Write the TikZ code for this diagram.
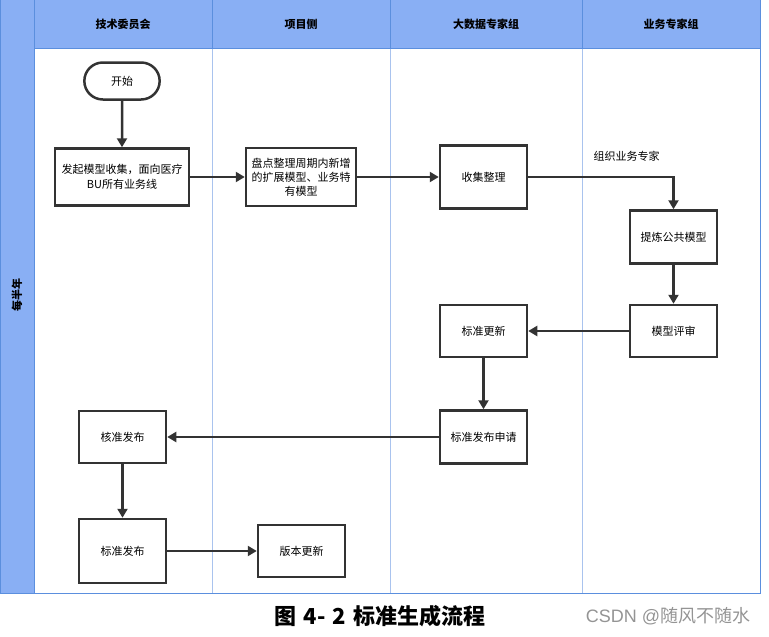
\documentclass[tikz,border=0pt]{standalone}
\usepackage{fontspec}
\setmainfont{Noto Sans CJK SC}
\setsansfont{Liberation Sans}
\usetikzlibrary{arrows.meta,shapes.misc}
\definecolor{hdr}{HTML}{89AFF4}
\definecolor{hdrline}{HTML}{5B8FDE}
\definecolor{sep}{HTML}{A9C3EE}
\definecolor{boxline}{HTML}{333333}
\tikzset{
  procbox/.style={draw=boxline,line width=2.5pt,fill=white,minimum width=87pt,minimum height=53pt,align=center,font=\fontsize{11}{15}\selectfont,inner sep=2pt},
  flow/.style={draw=boxline,line width=2.5pt,-{Triangle[length=9pt,width=10pt]}},
  hdrtext/.style={font=\fontsize{11}{13}\selectfont\bfseries}
}
\begin{document}
\begin{tikzpicture}[x=1pt,y=-1pt]
\useasboundingbox (0,0) rectangle (769,637);
% pool
\fill[hdr] (0,0) rectangle (760,48);
\fill[hdr] (0,48) rectangle (34,593);
\draw[sep,line width=1pt] (212,48) -- (212,593);
\draw[sep,line width=1pt] (390,48) -- (390,593);
\draw[sep,line width=1pt] (582,48) -- (582,593);
\draw[hdrline,line width=1pt] (34,0) -- (34,593);
\draw[hdrline,line width=1pt] (212,0) -- (212,48);
\draw[hdrline,line width=1pt] (390,0) -- (390,48);
\draw[hdrline,line width=1pt] (582,0) -- (582,48);
\draw[hdrline,line width=1pt] (34,48) -- (760,48);
\draw[hdrline,line width=1pt] (0.5,0) -- (0.5,593) -- (760,593) -- (760,0);
\node[hdrtext] (h1) at (123,24) {技术委员会};
\node[hdrtext] (h2) at (301,24) {项目侧};
\node[hdrtext] (h3) at (486,24) {大数据专家组};
\node[hdrtext] (h4) at (671,24) {业务专家组};
\node[hdrtext,rotate=90] (lane) at (17,295) {每半年};
% nodes
\node[draw=boxline,line width=2.5pt,rounded rectangle,minimum width=82pt,minimum height=37pt,font=\fontsize{11}{13}\selectfont] (start) at (122,81) {开始};
\node[procbox,minimum width=134pt,minimum height=57pt] (a) at (122,177) {发起模型收集，面向医疗\\BU所有业务线};
\node[procbox,minimum width=110pt,minimum height=58pt,font=\fontsize{11}{14}\selectfont,inner sep=1pt] (b) at (301,177) {盘点整理周期内新增\\的扩展模型、业务特\\有模型};
\node[procbox,minimum height=63pt] (c) at (483.5,177) {收集整理};
\node[procbox] (d) at (673.5,237) {提炼公共模型};
\node[procbox,minimum height=52pt] (e) at (673.5,331) {模型评审};
\node[procbox,minimum height=52pt] (f) at (483.5,331) {标准更新};
\node[procbox] (g) at (483.5,437) {标准发布申请};
\node[procbox,minimum height=52pt] (h) at (122.5,437) {核准发布};
\node[procbox,minimum height=64pt] (i) at (122.5,551) {标准发布};
\node[procbox,minimum height=52pt] (j) at (301.5,551) {版本更新};
\node[font=\fontsize{11}{13}\selectfont,anchor=west] (lbl) at (590,156) {组织业务专家};
% connectors
\draw[flow] (start) -- (a);
\draw[flow] (a) -- (b);
\draw[flow] (b) -- (c);
\draw[flow] (c.east) -| (d.north);
\draw[flow] (d) -- (e);
\draw[flow] (e) -- (f);
\draw[flow] (f) -- (g);
\draw[flow] (g) -- (h);
\draw[flow] (h) -- (i);
\draw[flow] (i) -- (j);
% caption
\node[font=\fontsize{22}{26}\selectfont\bfseries] (cap) at (380,616) {图\,\,4-\,\,2\,\,标准生成流程};
\node[font=\fontsize{18}{21}\selectfont,text=black!42] (wm) at (668,616) {\sffamily CSDN @\rmfamily 随风不随水};
\end{tikzpicture}
\end{document}
